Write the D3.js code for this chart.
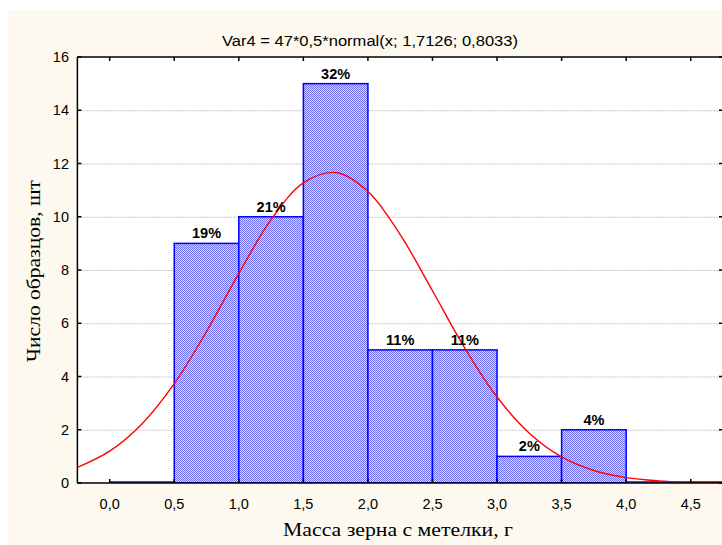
<!DOCTYPE html>
<html><head><meta charset="utf-8">
<script src="https://cdn.jsdelivr.net/npm/d3@7"></script>
<style>body{margin:0;background:#fff}svg{display:block}</style>
</head><body>
<script>
const binStarts = [0.0, 0.5, 1.0, 1.5, 2.0, 2.5, 3.0, 3.5, 4.0, 4.5];
const counts    = [0,   9,   10,  15,  5,   5,   1,   2,   0,   0];
const pctLabels = ["",  "19%","21%","32%","11%","11%","2%","4%","", ""];
const binWidth = 0.5;
const curveX = [-0.25,0,0.25,0.5,0.75,1.0,1.25,1.5,1.75,2.0,2.25,2.5,2.75,3.0,3.25,3.5,3.75,4.0,4.25,4.5,4.75];
const curveY = [0.59,1.20,2.22,3.73,5.69,7.87,9.89,11.27,11.66,10.95,9.33,7.22,5.07,3.23,1.87,0.98,0.47,0.20,0.08,0.03,0.01];
const xTicks = [0,0.5,1,1.5,2,2.5,3,3.5,4,4.5];
const yTicks = [0,2,4,6,8,10,12,14,16];
const title = "Var4 = 47*0,5*normal(x; 1,7126; 0,8033)";
const xTitle = "Масса зерна с метелки, г";
const yTitle = "Число образцов, шт";

const W = 722, H = 545;
const svg = d3.select("body").append("svg").attr("width", W).attr("height", H);
const defs = svg.append("defs");
const pat = defs.append("pattern").attr("id","dots").attr("width",2).attr("height",2)
  .attr("patternUnits","userSpaceOnUse");
pat.append("rect").attr("width",2).attr("height",2).attr("fill","#d4d4ff");
pat.append("rect").attr("width",1).attr("height",1).attr("fill","#7070f0");
pat.append("rect").attr("x",1).attr("y",1).attr("width",1).attr("height",1).attr("fill","#7070f0");

svg.append("rect").attr("x",8).attr("y",10).attr("width",W-8).attr("height",H-10).attr("fill","#fdf9ef");

const x = d3.scaleLinear().domain([-0.25, 4.75]).range([77.4, 723]);
const y = d3.scaleLinear().domain([0, 16]).range([483, 57]);
const fmt = d => d3.format(".1f")(d).replace(".", ",");

svg.append("rect").attr("x", x(-0.25)).attr("y", y(16)).attr("width", x(4.75)-x(-0.25)).attr("height", y(0)-y(16)).attr("fill","#fff");

const clip = defs.append("clipPath").attr("id","pc");
clip.append("rect").attr("x", x(-0.25)).attr("y", y(16)).attr("width", x(4.75)-x(-0.25)).attr("height", y(0)-y(16));

// gridlines
svg.append("g").selectAll("line").data(yTicks.filter(d=>d>0 && d<16)).join("line")
  .attr("x1", x(-0.25)).attr("x2", x(4.75)).attr("y1", d=>y(d)+0.5).attr("y2", d=>y(d)+0.5)
  .attr("stroke","#c4c4c4").attr("stroke-width",1).attr("stroke-dasharray","2,1");

const plot = svg.append("g").attr("clip-path","url(#pc)");
plot.append("line").attr("x1", x(binStarts[0])).attr("x2", x(4.75)).attr("y1", y(0)-1).attr("y2", y(0)-1)
  .attr("stroke","#0000ff").attr("stroke-width",1.5);
const bars = binStarts.map((s,i)=>({s, c:counts[i], l:pctLabels[i]})).filter(d=>d.c>0);
plot.selectAll("rect.bar").data(bars).join("rect").attr("class","bar")
  .attr("x", d=>x(d.s)).attr("y", d=>y(d.c)).attr("width", d=>x(d.s+binWidth)-x(d.s)).attr("height", d=>y(0)-y(d.c))
  .attr("fill","url(#dots)").attr("stroke","#0000ff").attr("stroke-width",1.5);

const pts = curveX.map((v,i)=>[v, curveY[i]]);
plot.append("path").attr("d", d3.line().x(d=>x(d[0])).y(d=>y(d[1])).curve(d3.curveCatmullRom)(pts))
  .attr("fill","none").attr("stroke","#ff0000").attr("stroke-width",1.4);

svg.append("g").selectAll("text").data(bars).join("text")
  .attr("x", d=>x(d.s+binWidth/2)).attr("y", d=>y(d.c)-5)
  .attr("text-anchor","middle").attr("font-family","Liberation Sans, Arial, sans-serif")
  .attr("font-weight","bold").attr("font-size",14.5).text(d=>d.l);

const fr = svg.append("g").attr("stroke","#000").attr("stroke-width",1.5).attr("fill","none");
fr.append("line").attr("x1", x(-0.25)).attr("x2", x(-0.25)).attr("y1", y(16)).attr("y2", y(0));
fr.append("line").attr("x1", x(-0.25)).attr("x2", W).attr("y1", y(16)).attr("y2", y(16));
fr.append("line").attr("x1", x(-0.25)).attr("x2", W).attr("y1", y(0)).attr("y2", y(0));
fr.append("line").attr("x1", x(4.75)).attr("x2", x(4.75)).attr("y1", y(16)).attr("y2", y(0));

fr.selectAll("line.xb").data(xTicks).join("line").attr("class","xb")
  .attr("x1", d=>x(d)).attr("x2", d=>x(d)).attr("y1", y(0)).attr("y2", y(0)-4);
fr.selectAll("line.xt").data(xTicks).join("line").attr("class","xt")
  .attr("x1", d=>x(d)).attr("x2", d=>x(d)).attr("y1", y(16)).attr("y2", y(16)+4);
fr.selectAll("line.yl").data(yTicks).join("line").attr("class","yl")
  .attr("x1", x(-0.25)).attr("x2", x(-0.25)+4).attr("y1", d=>y(d)).attr("y2", d=>y(d));
fr.selectAll("line.yr").data(yTicks).join("line").attr("class","yr")
  .attr("x1", x(4.75)).attr("x2", x(4.75)-4).attr("y1", d=>y(d)).attr("y2", d=>y(d));

const lab = svg.append("g").attr("font-family","Liberation Sans, Arial, sans-serif").attr("font-size",14.5).attr("fill","#000");
lab.selectAll("text.xl").data(xTicks).join("text").attr("class","xl")
  .attr("x", d=>x(d)).attr("y", 509).attr("text-anchor","middle").text(d=>fmt(d));
lab.selectAll("text.yl").data(yTicks).join("text").attr("class","yl")
  .attr("x", 69).attr("y", d=>y(d)+5).attr("text-anchor","end").text(d=>d);

svg.append("text").attr("x", 370).attr("y", 46).attr("text-anchor","middle")
  .attr("font-family","Liberation Sans, Arial, sans-serif").attr("font-size",14)
  .attr("textLength",296).attr("lengthAdjust","spacingAndGlyphs").text(title);
svg.append("text").attr("x", 398).attr("y", 536).attr("text-anchor","middle")
  .attr("font-family","Liberation Serif, Times New Roman, serif").attr("font-size",19)
  .attr("textLength",230).attr("lengthAdjust","spacingAndGlyphs").text(xTitle);
svg.append("text").attr("transform","translate(40,271) rotate(-90)").attr("text-anchor","middle")
  .attr("font-family","Liberation Serif, Times New Roman, serif").attr("font-size",19)
  .attr("textLength",182).attr("lengthAdjust","spacingAndGlyphs").text(yTitle);
</script>
</body></html>
